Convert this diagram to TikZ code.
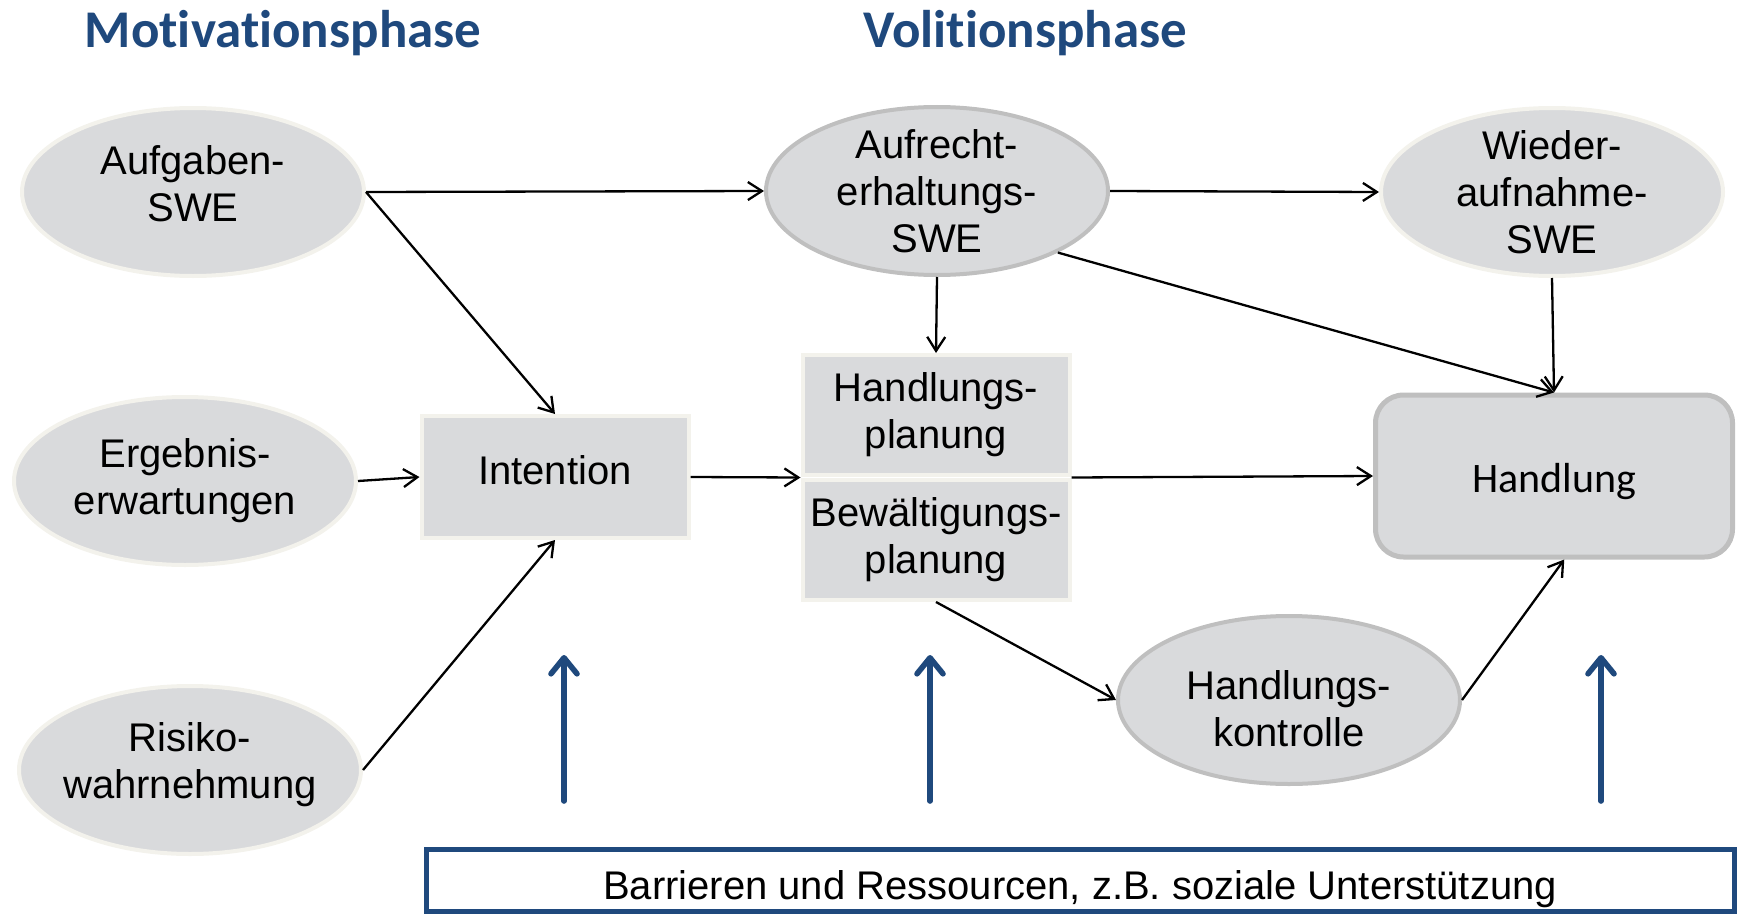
\documentclass[tikz,border=0pt]{standalone}
\usepackage{fontspec}
\setmainfont{Liberation Sans}
\newfontfamily\calibri[Ligatures=NoCommon]{Carlito}
\usetikzlibrary{arrows.meta,positioning,shapes.geometric,calc}
\definecolor{navy}{HTML}{1F497D}
\definecolor{boxgrey}{HTML}{D9DADC}
\definecolor{rimgrey}{HTML}{BFBFBF}
\definecolor{rimcream}{HTML}{F3F2EC}

\begin{document}
\begin{tikzpicture}[
    x=0.5pt, y=-0.5pt,
    every node/.style={font=\fontsize{20}{23.5}\selectfont, align=center},
    phasetitle/.style={font=\calibri\bfseries\fontsize{26.5}{30}\selectfont, text=navy},
    swe/.style={ellipse, fill=boxgrey, draw=rimcream, line width=2pt,
        minimum width=171pt, minimum height=84pt, inner xsep=-8pt, inner ysep=-8pt},
    swedark/.style={swe, draw=rimgrey},
    planbox/.style={rectangle, fill=boxgrey, draw=rimcream, line width=2pt,
        minimum width=133.5pt, minimum height=60pt, inner sep=0pt},
    link/.style={line width=1.15pt, -{Straight Barb[length=7pt,width=9pt]}},
    resarrow/.style={navy, line width=2.8pt, line cap=round, -{Straight Barb[length=8pt,width=13pt,round]}},
]
\useasboundingbox (0,0) rectangle (1745,915);

% Phase titles
\node[phasetitle] (motiv) at (283,33) {Motivationsphase};
\node[phasetitle] (voli) at (1025,33) {Volitionsphase};

% Motivation phase
\node[swe] (aufg) at (193,192) {Aufgaben-\\SWE\rule[-8pt]{0pt}{8pt}};
\node[swe] (erg) at (185,481) {Ergebnis-\\erwartungen};
\node[swe] (risk) at (190,770) {Risiko-\\wahrnehmung\rule[-9.5pt]{0pt}{9.5pt}};
\node[planbox, minimum height=61pt] (intent) at (555,477) {Intention\rule[-6.6pt]{0pt}{6.6pt}};

% Volition phase
\node[swedark] (aufr) at (937,191) {Aufrecht-\\erhaltungs-\\SWE};
\node[swe] (wied) at (1552,192) {Wieder-\\aufnahme-\\SWE};
\node[planbox] (hplan) at (936,415) {Handlungs-\\planung};
\node[planbox] (bplan) at (936,540) {Bewältigungs-\\planung};
\node[swedark] (hkontr) at (1289,700) {\rule{0pt}{23.6pt}Handlungs-\\kontrolle};
\node[rectangle, rounded corners=14pt, fill=boxgrey, draw=rimgrey, line width=2.5pt,
    minimum width=178.5pt, minimum height=81pt,
    font=\calibri\fontsize{21}{25}\selectfont] (handl) at (1554,476) {\rule{0pt}{20.3pt}Handlung};

% Barriers
\node[rectangle, draw=navy, fill=white, line width=2.5pt, minimum width=654pt,
    minimum height=31pt, inner sep=0pt] (barr) at (1080,880)
    {\rule{0pt}{23.6pt}Barrieren und Ressourcen, z.B. soziale Unterstützung};

\coordinate (planin) at ($(hplan.south west)!0.5!(bplan.north west)$);
\coordinate (planout) at ($(hplan.south east)!0.5!(bplan.north east)$);

% Connectors
\draw[link] (aufg.east) -- (aufr.west);
\draw[link] (aufg.east) -- (intent.north);
\draw[link] (erg.east) -- (intent.west);
\draw[link] (risk.east) -- (intent.south);
\draw[link] (intent.east) -- (planin);
\draw[link] (aufr.east) -- (wied.west);
\draw[link] (aufr.south) -- (hplan.north);
\draw[link] (aufr.-27) -- (handl.north);
\draw[link] (wied.south) -- (handl.north);
\draw[link] (planout) -- (handl.west);
\draw[link] (bplan.south) -- (hkontr.west);
\draw[link] (hkontr.east) -- (handl.-83);

% Resources pointing up
\foreach \x [count=\i] in {564,930,1601} {
    \coordinate (lo\i) at (\x,801);
    \coordinate (hi\i) at (\x,655);
    \draw[resarrow] (lo\i) -- (hi\i);
}

\end{tikzpicture}
\end{document}
